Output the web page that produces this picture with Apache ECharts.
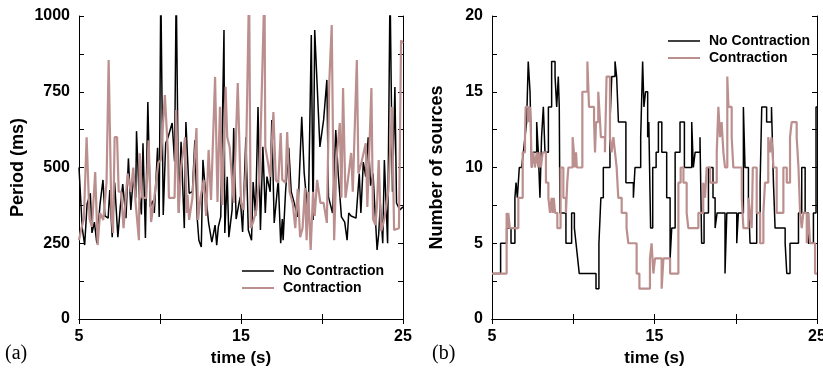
<!DOCTYPE html>
<html>
<head>
<meta charset="utf-8">
<script src="https://cdn.jsdelivr.net/npm/echarts@6/dist/echarts.min.js"></script>
<style>html,body{margin:0;padding:0;background:#fff}#c{width:823px;height:370px}</style>
</head>
<body>
<div id="c"></div>
<script>
// ---------- Data ----------
const seriesNames = ['No Contraction', 'Contraction'];
const xTickLabels = [5, 15, 25];
const periodTickLabels = [0, 250, 500, 750, 1000];
const sourcesTickLabels = [0, 5, 10, 15, 20];

// Panel (a): Period (ms) vs time (s)
const nocPeriodT = [5.0,5.1,5.2,5.35,5.5,5.7,5.8,5.95,6.1,6.3,6.48,6.6,6.8,6.9,7.05,7.2,7.4,7.55,7.7,7.9,8.05,8.2,8.35,8.5,8.55,8.7,8.85,8.95,9.1,9.25,9.4,9.55,9.65,9.85,9.95,10.05,10.2,10.35,10.5,10.75,10.9,11.0,11.15,11.3,11.5,11.6,11.7,11.8,12.0,12.15,12.3,12.4,12.55,12.65,12.8,13.0,13.2,13.4,13.5,13.6,13.75,13.95,14.0,14.15,14.25,14.45,14.55,14.7,14.95,15.1,15.3,15.45,15.65,15.75,15.9,16.05,16.2,16.35,16.5,16.6,16.8,16.9,17.05,17.3,17.45,17.55,17.6,17.75,17.95,18.1,18.3,18.5,18.75,18.9,19.15,19.34,19.45,19.55,19.87,20.1,20.3,20.4,20.65,20.85,21.0,21.2,21.4,21.55,21.65,21.8,22.1,22.3,22.4,22.55,22.7,22.85,23.0,23.15,23.4,23.5,23.6,23.75,23.85,24.05,24.2,24.35,24.5,24.6,24.8,25.0];
const nocPeriodV = [500,495,300,244,380,415,284,320,250,380,459,340,333,426,270,450,270,370,445,333,530,360,470,400,620,420,345,580,267,716,370,390,350,565,337,1100,343,580,600,647,520,1100,350,585,300,650,650,415,420,590,330,260,238,525,425,317,254,310,244,304,337,954,284,469,270,360,630,330,403,287,600,294,260,452,340,700,294,568,350,470,420,657,317,459,250,330,260,420,565,420,380,337,667,482,333,937,327,954,568,657,789,403,350,624,480,337,320,260,350,340,333,480,350,518,470,600,440,480,228,280,380,250,525,250,1100,420,766,383,360,370];

const conPeriodT = [5.0,5.15,5.3,5.47,5.65,5.8,6.0,6.08,6.15,6.3,6.5,6.7,6.83,7.0,7.1,7.2,7.35,7.45,7.6,7.75,8.0,8.2,8.35,8.5,8.7,8.75,8.9,9.15,9.3,9.45,9.65,9.9,10.05,10.3,10.5,10.55,10.9,11.0,11.15,11.3,11.55,11.65,11.7,11.8,12.0,12.25,12.35,12.5,12.7,12.85,13.0,13.15,13.4,13.55,13.7,13.85,14.05,14.15,14.3,14.55,14.8,15.0,15.15,15.3,15.5,15.6,15.75,15.95,16.15,16.45,16.5,16.65,16.8,17.0,17.15,17.3,17.45,17.55,17.75,17.85,18.0,18.2,18.35,18.5,18.65,18.8,18.95,19.05,19.15,19.3,19.45,19.55,19.7,19.9,20.1,20.3,20.45,20.6,20.75,20.9,21.1,21.2,21.3,21.45,21.6,21.8,21.9,22.15,22.25,22.45,22.7,22.8,23.05,23.15,23.3,23.4,23.5,23.65,23.85,24.1,24.32,24.45,24.75,24.88,25.0];
const conPeriodV = [260,300,330,600,330,304,485,480,244,350,327,450,855,350,284,600,600,420,420,300,480,420,500,380,260,547,400,400,590,320,400,517,525,739,540,400,400,690,350,500,600,350,410,327,400,630,327,400,459,340,558,393,799,386,700,376,766,600,568,383,779,383,360,492,1100,300,320,360,480,1100,568,520,469,683,459,450,614,459,450,617,420,380,300,430,270,300,432,260,420,228,420,340,459,383,383,317,782,970,260,530,647,400,762,400,459,548,420,855,480,520,580,370,762,330,310,380,525,290,330,425,700,294,300,920,910];

// Panel (b): Number of sources vs time (s)
const nocSourcesT = [5.0,5.53,5.9,6.17,6.41,6.48,6.56,6.68,6.82,6.93,7.03,7.13,7.23,7.34,7.44,7.54,7.64,7.75,7.85,7.95,8.05,8.16,8.26,8.47,8.67,8.77,8.88,8.98,9.08,9.14,9.18,9.55,9.9,10.07,10.17,10.27,10.37,11.4,11.58,11.7,11.85,12.26,12.37,12.57,12.67,12.78,13.24,13.7,13.8,14.15,14.27,14.35,14.45,14.58,14.65,14.76,14.89,15.1,15.24,15.45,15.75,15.96,16.06,16.27,16.57,16.84,17.29,17.39,17.5,17.8,17.9,18.05,18.32,18.6,18.73,18.85,19.34,19.45,20.06,20.16,20.47,20.57,20.78,20.88,21.29,21.5,21.6,21.9,22.2,22.32,22.42,23.04,23.14,23.34,23.86,24.06,24.27,24.47,24.78,24.94,25.0];
const nocSourcesV = [3,5,6,5,8,9,8,10,10,11,12,13,17,15,10,11,11,13,11,8,12,14,11,14,17,17,16,14,16,14,7,5,7,6,5,4,3,2,5,8,10,13,16,17,16,13,9,8,10,12,17,14,15,12,13,6,10,11,13,11,8,4,6,11,13,10,13,10,11,12,5,7,10,8,6,7,3,7,5,7,14,10,8,5,7,9,14,13,14,9,6,5,3,5,7,10,7,5,7,14,14];

const conSourcesT = [5.0,5.9,5.97,6.0,6.1,6.62,6.89,7.03,7.07,7.23,7.34,7.4,7.44,7.54,7.64,7.75,7.85,7.91,8.01,8.12,8.32,8.47,8.57,8.67,8.73,8.8,8.88,9.02,9.22,9.39,9.55,9.63,9.7,9.96,10.04,10.1,10.17,10.22,10.56,10.87,10.97,11.28,11.34,11.4,11.54,11.65,11.7,11.95,12.05,12.26,12.36,12.47,12.57,12.67,12.77,12.98,13.28,13.39,13.9,14.07,14.72,14.82,14.93,15.03,15.44,15.55,15.96,16.47,16.61,16.78,16.98,17.08,17.7,18.0,18.11,18.21,18.42,18.83,18.93,19.03,19.13,19.24,19.34,19.48,19.55,19.75,19.85,20.37,20.47,20.78,20.88,20.98,21.05,21.29,21.5,21.7,21.8,22.0,22.1,22.2,22.32,22.52,22.93,23.14,23.34,23.44,23.75,23.86,23.96,24.06,24.16,24.37,24.47,24.57,24.88,25.0];
const conSourcesV = [3,7,6,7,6,8,11,12,14,13,14,12,10,11,10,11,10,11,10,11,9,8,7,8,7,8,7,6,10,8,7,9,10,12,11,10,11,10,15,17,14,13,11,13,15,13,12,11,16,12,11,12,11,10,8,7,6,5,3,2,4,5,3,4,2,4,3,9,10,9,7,6,7,9,8,10,9,11,14,12,13,11,10,16,14,12,10,8,6,8,7,6,10,7,5,7,9,12,11,12,10,7,10,9,12,13,12,10,7,6,7,5,7,5,3,3];

// ---------- Build ----------
function pairs(t, v) { return t.map((x, i) => [x, v[i]]); }
const BLACK = '#000000';
const PINK = '#bc8f8f';
const FONT = 'Liberation Sans';

function xAxes(gi) {
  const base = {
    type: 'value', gridIndex: gi, min: 5, max: 25, interval: 5,
    axisLine: { show: true, lineStyle: { color: '#000', width: 1 } },
    axisTick: { show: true, inside: true, length: 5, lineStyle: { color: '#000' } },
    splitLine: { show: false }
  };
  return [
    Object.assign({}, base, {
      position: 'bottom',
      name: 'time (s)', nameLocation: 'middle', nameGap: 27,
      nameTextStyle: { fontFamily: FONT, fontWeight: 'bold', fontSize: 17, color: '#000' },
      axisLabel: { margin: 10, fontFamily: FONT, fontWeight: 'bold', fontSize: 16, color: '#000',
        formatter: v => xTickLabels.includes(v) ? String(v) : '' }
    }),
    Object.assign({}, base, { position: 'top', axisLabel: { show: false } })
  ];
}
function yAxes(gi, max, interval, labels, name, gap) {
  const base = {
    type: 'value', gridIndex: gi, min: 0, max: max, interval: interval,
    axisLine: { show: true, lineStyle: { color: '#000', width: 1 } },
    axisTick: { show: true, inside: true, length: 5, lineStyle: { color: '#000' } },
    splitLine: { show: false }
  };
  return [
    Object.assign({}, base, {
      position: 'left',
      name: name, nameLocation: 'middle', nameGap: gap,
      nameTextStyle: { fontFamily: FONT, fontWeight: 'bold', fontSize: 18, color: '#000' },
      axisLabel: { margin: 9, fontFamily: FONT, fontWeight: 'bold', fontSize: 16, color: '#000',
        formatter: v => labels.includes(v) ? String(v) : '' }
    }),
    Object.assign({}, base, { position: 'right', axisLabel: { show: false } })
  ];
}

function legendItem(name, left, top, color, h) {
  return {
    data: [{ name: name, icon: 'rect', itemStyle: { color: color } }],
    left: left, top: top, padding: 0,
    itemWidth: 32, itemHeight: h,
    textStyle: { fontFamily: FONT, fontWeight: 'bold', fontSize: 14, color: '#000', padding: [0, 0, 0, 4] },
    selectedMode: false,
    formatter: n => n.trim()
  };
}

const chart = echarts.init(document.getElementById('c'), null, { renderer: 'canvas' });
chart.setOption({
  animation: false,
  backgroundColor: '#fff',
  grid: [
    { left: 79, top: 16, width: 324, height: 303, outerBoundsMode: 'none', containLabel: false },
    { left: 492, top: 16, width: 325, height: 303, outerBoundsMode: 'none', containLabel: false }
  ],
  xAxis: [...xAxes(0), ...xAxes(1)],
  yAxis: [
    ...yAxes(0, 1000, 125, periodTickLabels, 'Period (ms)', 52),
    ...yAxes(1, 20, 2.5, sourcesTickLabels, 'Number of sources', 46)
  ],
  legend: [
    legendItem(seriesNames[0], 242, 264, BLACK, 1.5),
    legendItem(seriesNames[1], 242, 281, PINK, 2),
    legendItem(seriesNames[0] + ' ', 668, 34, BLACK, 1.5),
    legendItem(seriesNames[1] + ' ', 668, 51, PINK, 2)
  ],
  graphic: [
    { type: 'text', left: 5, top: 344, style: { text: '(a)', font: '20px "Liberation Serif"', fill: '#000' } },
    { type: 'text', left: 432, top: 344, style: { text: '(b)', font: '20px "Liberation Serif"', fill: '#000' } }
  ],
  series: [
    { name: seriesNames[0], type: 'line', xAxisIndex: 0, yAxisIndex: 0, data: pairs(nocPeriodT, nocPeriodV),
      symbol: 'none', clip: true, lineStyle: { color: BLACK, width: 1.5 }, itemStyle: { color: BLACK } },
    { name: seriesNames[1], type: 'line', xAxisIndex: 0, yAxisIndex: 0, data: pairs(conPeriodT, conPeriodV),
      symbol: 'none', clip: true, lineStyle: { color: PINK, width: 2.2 }, itemStyle: { color: PINK } },
    { name: seriesNames[0] + ' ', type: 'line', xAxisIndex: 2, yAxisIndex: 2, data: pairs(nocSourcesT, nocSourcesV),
      step: 'end', symbol: 'none', clip: true, lineStyle: { color: BLACK, width: 1.5 }, itemStyle: { color: BLACK } },
    { name: seriesNames[1] + ' ', type: 'line', xAxisIndex: 2, yAxisIndex: 2, data: pairs(conSourcesT, conSourcesV),
      step: 'end', symbol: 'none', clip: true, lineStyle: { color: PINK, width: 2.2 }, itemStyle: { color: PINK } }
  ]
});
</script>
</body>
</html>
